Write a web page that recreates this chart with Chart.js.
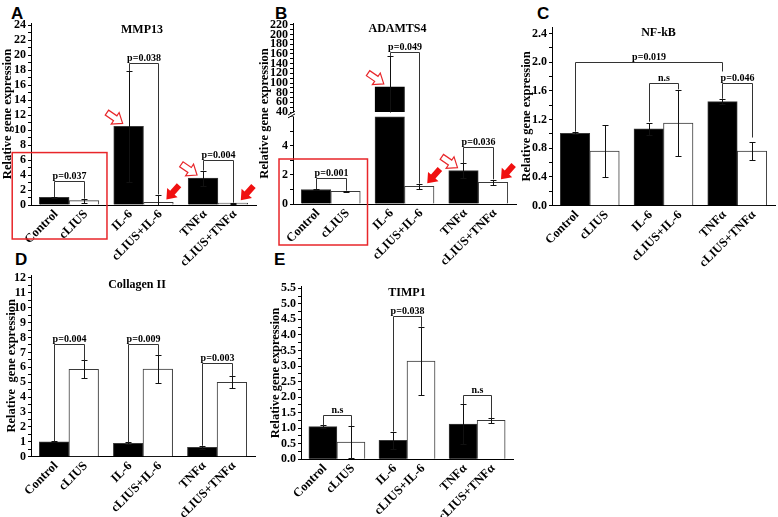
<!DOCTYPE html>
<html>
<head>
<meta charset="utf-8">
<script src="https://cdn.jsdelivr.net/npm/chart.js@4.4.0/dist/chart.umd.min.js"></script>
<style>
  body { margin: 0; background: #fff; width: 778px; height: 517px; position: relative; overflow: hidden; }
  canvas { position: absolute; }
  .tag { position: absolute; font: bold 17px "Liberation Sans", Arial, sans-serif; line-height: 17px; color: #000; }
</style>
</head>
<body>
<div class="tag" style="left:11px;top:5px">A</div>
<div class="tag" style="left:275px;top:5px">B</div>
<div class="tag" style="left:537px;top:5px">C</div>
<div class="tag" style="left:15px;top:251px">D</div>
<div class="tag" style="left:274px;top:251px">E</div>

<canvas id="cA" width="262" height="275" style="left:0;top:0"></canvas>
<canvas id="cB" width="265" height="275" style="left:255px;top:0"></canvas>
<canvas id="cC" width="268" height="275" style="left:510px;top:0"></canvas>
<canvas id="cD" width="280" height="259" style="left:0;top:258px"></canvas>
<canvas id="cE" width="260" height="259" style="left:265px;top:258px"></canvas>

<script>
const groups = ['Control', 'cLIUS', 'IL-6', 'cLIUS+IL-6', 'TNFα', 'cLIUS+TNFα'];

// A - MMP13
const mmp13 = [1.02, 0.58, 10.5, 0.35, 3.6, 0.25];
const mmp13Err = [0.04, 0.26, 7.4, 1.05, 1.0, 0.06];
const mmp13Ticks = ['0', '2', '4', '6', '8', '10', '12', '14', '16', '18', '20', '22', '24'];
// [bar a, bar b, bracket level, foot a, foot b, text]
const mmp13P = [[0, 1, 3.2, 1.06, 0.84, 'p=0.037'], [2, 3, 19.0, 17.9, 1.4, 'p=0.038'], [4, 5, 6.0, 4.6, 0.31, 'p=0.004']];

// B - ADAMTS4 (broken axis)
const adamts4 = [1.0, 0.88, 92, 1.22, 2.3, 1.5];
const adamts4Err = [0.03, 0.03, 63.6, 0.17, 0.5, 0.18];
const adamts4TicksLow = ['0', '2', '4'];
const adamts4TicksHigh = ['40', '60', '80', '100', '120', '140', '160', '180', '200', '220'];
const adamts4P = [[0, 1, 1.77, 1.03, 0.92, 'p=0.001'], [2, 3, 164.8, 156, 1.4, 'p=0.049'], [4, 5, 3.95, 2.8, 1.7, 'p=0.036']];

// C - NF-kB
const nfkb = [1.01, 0.76, 1.07, 1.15, 1.45, 0.76];
const nfkbErr = [0.015, 0.365, 0.08, 0.46, 0.03, 0.13];
const nfkbTicks = ['0.0', '0.4', '0.8', '1.2', '1.6', '2.0', '2.4'];
const nfkbP = [[0, 4, 2.0, 1.03, 1.87, 'p=0.019'], [2, 3, 1.71, 1.17, 1.62, 'n.s'], [4, 5, 1.71, 1.49, 0.95, 'p=0.046']];

// D - Collagen II
const col2 = [1.0, 5.86, 0.9, 5.88, 0.63, 5.0];
const col2Err = [0.03, 0.6, 0.06, 0.95, 0.1, 0.42];
const col2Ticks = ['0', '1', '2', '3', '4', '5', '6', '7', '8', '9', '10', '11', '12'];
const col2P = [[0, 1, 7.56, 1.03, 6.46, 'p=0.004'], [2, 3, 7.56, 0.96, 6.83, 'p=0.009'], [4, 5, 6.28, 0.73, 5.42, 'p=0.003']];

// E - TIMP1
const timp1 = [1.05, 0.55, 0.61, 3.16, 1.13, 1.25];
const timp1Err = [0.04, 0.52, 0.28, 1.1, 0.65, 0.07];
const timp1Ticks = ['0.0', '0.5', '1.0', '1.5', '2.0', '2.5', '3.0', '3.5', '4.0', '4.5', '5.0', '5.5'];
const timp1P = [[0, 1, 1.42, 1.09, 1.07, 'n.s'], [2, 3, 4.61, 0.89, 4.26, 'p=0.038'], [4, 5, 2.07, 1.78, 1.32, 'n.s']];

const SERIF = '"Liberation Serif", "Times New Roman", serif';
// pairs of bars sit side by side, half a bar of gap between pairs
const xPos = i => i + 0.5 * Math.floor(i / 2);

function arrow(ctx, tx, ty, ang, solid) {
  const L = 19, H = 9, HW = 7, SW = 3;
  ctx.save();
  ctx.translate(tx, ty);
  ctx.rotate(ang);
  ctx.beginPath();
  ctx.moveTo(0, 0); ctx.lineTo(-H, -HW); ctx.lineTo(-H, -SW); ctx.lineTo(-L, -SW);
  ctx.lineTo(-L, SW); ctx.lineTo(-H, SW); ctx.lineTo(-H, HW); ctx.closePath();
  if (solid) {
    ctx.fillStyle = '#f01010'; ctx.fill();
  } else {
    ctx.fillStyle = '#fff'; ctx.fill();
    ctx.strokeStyle = '#e8262a'; ctx.lineWidth = 1.2; ctx.stroke();
  }
  ctx.restore();
}

function decor(p) {
  return {
    id: 'decor',
    afterDraw(chart) {
      const ctx = chart.ctx, area = chart.chartArea, sx = chart.scales.x;
      const lo = chart.scales.y, hi = chart.scales.yTop;
      const X = i => sx.getPixelForValue(xPos(i));
      const Y = v => (hi && v >= p.brk.hiMin ? hi : lo).getPixelForValue(v);
      const px = v => Math.round(v) + 0.5;
      ctx.save();

      // panel title inside the plot
      ctx.fillStyle = '#000';
      ctx.font = `bold 12px ${SERIF}`;
      ctx.textAlign = 'center';
      ctx.textBaseline = 'middle';
      ctx.fillText(p.title, (area.left + area.right) / 2 + p.titleDx, area.top + p.titleDy);

      if (p.brk) {
        // axis title spans both stacked axes
        ctx.save();
        ctx.translate(7.5 + p.tPad, (area.top + area.bottom) / 2);
        ctx.rotate(-Math.PI / 2);
        ctx.font = `bold 12.5px ${SERIF}`;
        ctx.fillText(p.yTitle, 0, 0);
        ctx.restore();
        // break marks
        const y1 = hi.getPixelForValue(p.brk.floor), y2 = lo.getPixelForValue(p.brk.cut);
        ctx.fillStyle = '#fff';
        ctx.fillRect(area.left - 2, y1 + 0.5, 4, y2 - y1 - 1);
        ctx.strokeStyle = '#000'; ctx.lineWidth = 1;
        ctx.beginPath();
        ctx.moveTo(area.left - 5, y1 + 3); ctx.lineTo(area.left + 2, y1 - 1);
        ctx.moveTo(area.left - 5, y2 + 1); ctx.lineTo(area.left + 2, y2 - 3);
        ctx.stroke();
      }

      // error bars
      ctx.strokeStyle = '#111'; ctx.lineWidth = 1;
      p.vals.forEach((v, i) => {
        const e = p.errs[i], x = px(X(i));
        const base = p.brk && v > p.brk.cut ? p.brk.floor : 0;
        const top = px(Y(v + e)), bot = px(Y(Math.max(v - e, base)));
        ctx.beginPath();
        ctx.moveTo(x, top); ctx.lineTo(x, bot);
        ctx.moveTo(x - 3, top); ctx.lineTo(x + 3, top);
        if (v - e > base) { ctx.moveTo(x - 3, bot); ctx.lineTo(x + 3, bot); }
        ctx.stroke();
      });

      // significance brackets
      ctx.strokeStyle = '#333';
      ctx.fillStyle = '#000';
      ctx.font = `bold 10px ${SERIF}`;
      ctx.textBaseline = 'alphabetic';
      for (const [a, b, lvl, fa, fb, txt] of p.brackets) {
        const xa = px(X(a)), xb = px(X(b)), y = px(Y(lvl));
        ctx.beginPath();
        ctx.moveTo(xa, Y(fa)); ctx.lineTo(xa, y); ctx.lineTo(xb, y); ctx.lineTo(xb, Y(fb));
        ctx.stroke();
        ctx.fillText(txt, (xa + xb) / 2, y - 3);
      }

      // red annotations
      if (p.box) {
        const [v, dl, dr, db] = p.box;
        const l = X(0) + dl, r = X(1) + dr, t = Y(v);
        ctx.strokeStyle = '#e8262a'; ctx.lineWidth = 1.5;
        ctx.strokeRect(l, t, r - l, area.bottom + db - t);
      }
      (p.hollow || []).forEach(i => arrow(ctx, X(i) - 6, Y(p.vals[i]) - 3, 0.6, false));
      (p.solid || []).forEach(i => arrow(ctx, X(i) + 8, Y(p.vals[i]) - 3, 2.3, true));
      ctx.restore();
    }
  };
}

function yAxis(p, labels, minor, min, max, extra) {
  return Object.assign({
    type: 'linear',
    position: 'left',
    min: min,
    max: max,
    stacked: false,
    afterBuildTicks: s => {
      const t = [];
      for (let v = +labels[0]; v <= max + 1e-9; v += minor) t.push({ value: Math.round(v * 1000) / 1000 });
      s.ticks = t;
    },
    afterFit: s => { s.width = p.yW; },
    ticks: {
      autoSkip: false,
      padding: 2,
      color: '#000',
      font: { family: SERIF, size: 12, weight: 'bold' },
      callback: v => { const k = labels.find(l => Math.abs(+l - v) < 1e-6); return k === undefined ? '' : k; }
    },
    grid: { drawOnChartArea: false, drawTicks: true, tickLength: 3, tickColor: '#000' },
    border: { color: '#000', width: 1 }
  }, extra);
}

function build(p) {
  const brk = p.brk;
  const colors = p.vals.map((v, i) => i % 2 ? '#fff' : '#000');
  const datasets = [{
    data: p.vals.map((v, i) => ({ x: xPos(i), y: brk && v > brk.cut ? brk.cut : v })),
    yAxisID: 'y',
    stack: 's',
    backgroundColor: colors,
    borderColor: '#3a3a3a',
    borderWidth: 1,
    barPercentage: 1,
    categoryPercentage: 1
  }];
  if (brk) {
    datasets.push({
      data: p.vals.map((v, i) => ({ x: xPos(i), y: v > brk.cut ? [brk.floor, v] : null })).filter(d => d.y),
      yAxisID: 'yTop',
      stack: 's',
      backgroundColor: '#000',
      borderColor: '#000',
      borderWidth: 1,
      barPercentage: 1,
      categoryPercentage: 1
    });
  }

  const scales = {
    x: {
      type: 'linear',
      min: -0.78,
      max: 6.78,
      offset: false,
      afterBuildTicks: s => { s.ticks = groups.map((g, i) => ({ value: xPos(i) })); },
      afterFit: s => { s.height = p.xH; },
      ticks: {
        autoSkip: false, minRotation: 45, maxRotation: 45, padding: 2, labelOffset: 2, color: '#000',
        font: { family: SERIF, size: 12.5, weight: 'bold' },
        callback: (v, i) => groups[i]
      },
      grid: { display: false, drawTicks: false, offset: false },
      border: { color: '#000', width: 1 }
    }
  };
  if (brk) {
    // stacked axes are laid out bottom-first: lower segment, then the upper one
    scales.y = yAxis(p, p.ticks, p.minor, 0, p.max, { stack: 'b', stackWeight: brk.weights[1] });
    scales.yTop = yAxis(p, brk.hiTicks, brk.hiMinor, brk.hiMin, brk.hiMax, { stack: 'b', stackWeight: brk.weights[0] });
  } else {
    scales.y = yAxis(p, p.ticks, p.minor, 0, p.max, {
      title: {
        display: true, text: p.yTitle, color: '#000',
        font: { family: SERIF, size: 12.5, weight: 'bold' },
        padding: { top: p.tPad, bottom: 0 }
      }
    });
  }

  new Chart(document.getElementById(p.id), {
    type: 'bar',
    data: { datasets: datasets },
    options: {
      responsive: false,
      animation: false,
      devicePixelRatio: 1,
      layout: { padding: p.pad },
      plugins: { legend: { display: false }, tooltip: { enabled: false } },
      scales: scales
    },
    plugins: [decor(p)]
  });
}

build({
  id: 'cA', title: 'MMP13', titleDx: -1.5, titleDy: 7, yTitle: 'Relative gene expression', tPad: 0,
  vals: mmp13, errs: mmp13Err, ticks: mmp13Ticks, minor: 1, max: 24.3,
  pad: { left: 0, right: 6, top: 23, bottom: 0 }, yW: 31, xH: 70,
  brackets: mmp13P, box: [7, -42, 23, 34], hollow: [2, 4], solid: [3, 5]
});

build({
  id: 'cB', title: 'ADAMTS4', titleDx: -7, titleDy: 6, yTitle: 'Relative gene expression', tPad: 2.5,
  vals: adamts4, errs: adamts4Err, ticks: adamts4TicksLow, minor: 1, max: 6.2,
  pad: { left: 0, right: 4, top: 23, bottom: 0 }, yW: 38, xH: 71,
  brackets: adamts4P, box: [3.1, -37, 22, 41], hollow: [2, 4], solid: [3, 5],
  brk: { hiMin: 36, hiMax: 224, cut: 6.0, floor: 40, hiTicks: adamts4TicksHigh, hiMinor: 10, weights: [91, 90] }
});

build({
  id: 'cC', title: 'NF-kB', titleDx: -5, titleDy: 6, yTitle: 'Relative gene expression', tPad: 9.5,
  vals: nfkb, errs: nfkbErr, ticks: nfkbTicks, minor: 0.2, max: 2.49,
  pad: { left: 0, right: 3, top: 27, bottom: 0 }, yW: 42, xH: 69.3,
  brackets: nfkbP
});

build({
  id: 'cD', title: 'Collagen II', titleDx: -6, titleDy: 10, yTitle: 'Relative  gene expression', tPad: 4.5,
  vals: col2, errs: col2Err, ticks: col2Ticks, minor: 0.5, max: 12.2,
  pad: { left: 0, right: 25, top: 17, bottom: 0 }, yW: 31, xH: 60.3,
  brackets: col2P
});

build({
  id: 'cE', title: 'TIMP1', titleDx: 0, titleDy: 6, yTitle: 'Relative gene expression', tPad: 3.5,
  vals: timp1, errs: timp1Err, ticks: timp1Ticks, minor: 0.25, max: 5.55,
  pad: { left: 0, right: 12, top: 28.7, bottom: 0 }, yW: 36, xH: 57.7,
  brackets: timp1P
});
</script>
</body>
</html>
